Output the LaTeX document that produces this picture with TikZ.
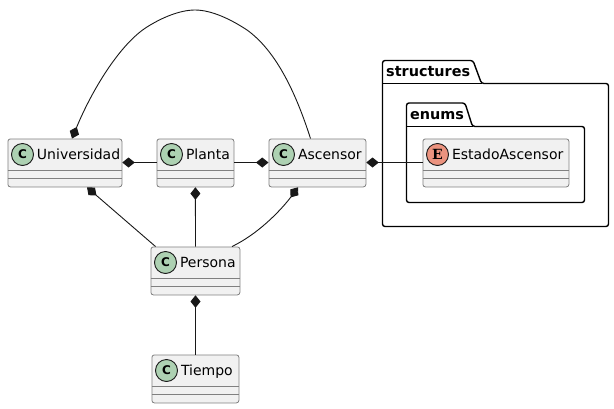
\documentclass[tikz,border=0pt]{standalone}
\usepackage{fontspec}
\setmainfont{DejaVu Sans}
\newfontfamily\spotserif{DejaVu Serif}
\usetikzlibrary{arrows.meta,calc}
\definecolor{boxfill}{HTML}{F1F1F1}
\definecolor{boxline}{HTML}{808080}
\definecolor{ink}{HTML}{181818}
\definecolor{cgreen}{HTML}{ADD1B2}
\definecolor{ered}{HTML}{EB937F}
\tikzset{
  classbox/.style={draw=boxline,fill=boxfill,line width=0.8pt,rounded corners=2.5pt,minimum height=48pt,inner sep=0pt,anchor=north west},
  compo/.style={draw=ink,line width=0.9pt,{Diamond[length=12.5pt,width=10pt,fill=ink]}-},
  pkg/.style={draw=black,line width=1.4pt,rounded corners=2.5pt,fill=white},
  spot/.style={circle,draw=ink,line width=0.9pt,minimum size=22pt,inner sep=0pt},
  lab/.style={inner sep=0pt,anchor=base west,font=\fontsize{14}{14}\selectfont},
  plab/.style={inner sep=0pt,anchor=base west,font=\fontsize{14.4}{14.4}\selectfont\bfseries}
}
\newcommand{\classnode}[5]{% name, x, y, width, text
  \node[classbox,minimum width=#4pt] (#1) at (#2,#3) {};
  \draw[boxline,line width=0.8pt] ($(#1.north west)+(0,32)$) -- ($(#1.north east)+(0,32)$)
       ($(#1.north west)+(0,40)$) -- ($(#1.north east)+(0,40)$);
  \node[spot,fill=cgreen,font=\fontsize{12}{12}\selectfont\bfseries] (#1spot) at ($(#1.north west)+(15,16)$) {C};
  \node[lab] (#1lab) at ($(#1.north west)+(29.3,21)$) {#5};
}
\begin{document}
\begin{tikzpicture}[x=1pt,y=-1pt]
\useasboundingbox (0,0) rectangle (614,408);
% packages
\draw[pkg] (382.5,83.5) -- (382.5,60.5) -- (473,60.5) -- (481.5,83.5) -- (608.5,83.5) -- (608.5,226.5) -- (382.5,226.5) -- cycle;
\draw[black,line width=1.4pt] (382.5,83.5) -- (481.5,83.5);
\node[plab] (pstruct) at (386,76) {structures};
\draw[pkg] (406.5,126.5) -- (406.5,103) -- (465,103) -- (472.5,126.5) -- (584.5,126.5) -- (584.5,202.5) -- (406.5,202.5) -- cycle;
\draw[black,line width=1.4pt] (406.5,126.5) -- (472.5,126.5);
\node[plab] (penums) at (410,119) {enums};
% classes
\classnode{univ}{7.5}{138.5}{114}{Universidad}
\classnode{planta}{156.5}{138.5}{77}{Planta}
\classnode{asc}{268.5}{138.5}{97}{Ascensor}
\classnode{pers}{150.5}{246.5}{89}{Persona}
\classnode{tiem}{151.5}{354.5}{87}{Tiempo}
\node[classbox,minimum width=146pt] (est) at (422.5,138.5) {};
\draw[boxline,line width=0.8pt] ($(est.north west)+(0,32)$) -- ($(est.north east)+(0,32)$)
     ($(est.north west)+(0,40)$) -- ($(est.north east)+(0,40)$);
\node[spot,fill=ered,font=\fontsize{14}{14}\selectfont\spotserif\bfseries] (estspot) at ($(est.north west)+(15,16)$) {E};
\node[lab] (estlab) at ($(est.north west)+(29.3,21)$) {EstadoAscensor};
% connector waypoints
\coordinate (archL) at (147,27);
\coordinate (apex) at (195,10);
\coordinate (archR) at (247,30);
% connectors
\draw[compo] ([xshift=64.5pt]univ.north west) .. controls (92,90) and (120,44) .. (archL)
  .. controls (162,17.5) and (180,10) .. (apex)
  .. controls (212,10) and (232,20) .. (archR)
  .. controls (275,50) and (295,90) .. ([xshift=42pt]asc.north west);
\draw[compo] (univ.east |- 0,162.5) -- (planta.west |- 0,162.5);
\draw[compo] (asc.west |- 0,162.5) -- (planta.east |- 0,162.5);
\draw[compo] (asc.east |- 0,162.5) -- (est.west |- 0,162.5);
\draw[compo] ([xshift=79.5pt]univ.south west) -- ([xshift=5pt]pers.north west);
\draw[compo] (planta.south) -- ([xshift=45pt]pers.north west);
\draw[compo] ([xshift=29.5pt]asc.south west) .. controls (285,205) and (262,232) .. ([xshift=81.5pt]pers.north west);
\draw[compo] ([xshift=45pt]pers.south west) -- ([xshift=44pt]tiem.north west);
\end{tikzpicture}
\end{document}
